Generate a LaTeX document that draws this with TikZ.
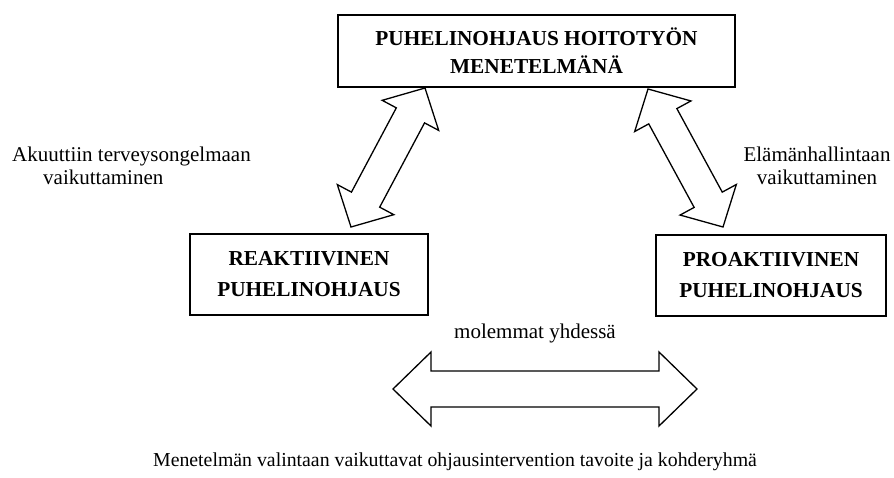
\documentclass[tikz,border=0pt]{standalone}
\usepackage{fontspec}
\setmainfont{Liberation Serif}
\usetikzlibrary{calc}

\tikzset{
  frame/.style={draw, line width=1.4pt, inner sep=0pt, align=center,
    font=\bfseries\fontsize{21.3}{31}\selectfont},
  label/.style={inner sep=0pt, font=\fontsize{21}{23}\selectfont},
  arrowbox/.style={draw, line width=1.3pt, fill=white, line join=miter}
}

% hollow double-headed block arrow between two named points
% #1,#2 tips; #3 head length; #4 half shaft width; #5 half head width
\newcommand{\twoway}[5]{%
  \coordinate (h1) at ($(#1)!#3!(#2)$);
  \coordinate (h2) at ($(#2)!#3!(#1)$);
  \draw[arrowbox] (#1) -- ($(h1)!#5!90:(#2)$) -- ($(h1)!#4!90:(#2)$)
    -- ($(h2)!#4!-90:(#1)$) -- ($(h2)!#5!-90:(#1)$) -- (#2)
    -- ($(h2)!#5!90:(#1)$) -- ($(h2)!#4!90:(#1)$)
    -- ($(h1)!#4!-90:(#2)$) -- ($(h1)!#5!-90:(#2)$) -- cycle;
}

\begin{document}
\begin{tikzpicture}[x=1pt, y=-1pt]
  \useasboundingbox[fill=white] (0,0) rectangle (894,477);

  % boxes
  \node[frame, minimum width=397pt, minimum height=72pt,
    font=\bfseries\fontsize{21.3}{28}\selectfont] (top) at (536.5,51)
    {PUHELINOHJAUS HOITOTYÖN\\MENETELMÄNÄ};
  \node[frame, minimum width=238pt, minimum height=81pt] (reak) at (309,274.5)
    {REAKTIIVINEN\\PUHELINOHJAUS};
  \node[frame, minimum width=230pt, minimum height=81pt] (proak) at (771,275.5)
    {PROAKTIIVINEN\\PUHELINOHJAUS};

  % arrow end points
  \coordinate (la) at (351,227);
  \coordinate (lb) at (425,88);
  \coordinate (ra) at (723,227);
  \coordinate (rb) at (648,89);
  \coordinate (ba) at (393,389);
  \coordinate (bb) at (697,389);

  \twoway{la}{lb}{31pt}{16pt}{32pt}
  \twoway{ra}{rb}{31pt}{16pt}{32pt}
  \twoway{ba}{bb}{38pt}{18pt}{37pt}

  % labels
  \node[label, align=left, anchor=west] (acute) at (12,165.5)
    {Akuuttiin terveysongelmaan\\\hspace*{31pt}vaikuttaminen};
  \node[label, align=center] (life) at (817,165.5)
    {Elämänhallintaan\\vaikuttaminen};
  \node[label] (both) at (535,333) {molemmat yhdessä};
  \node[label, font=\fontsize{19.8}{23}\selectfont] (note) at (455,462)
    {Menetelmän valintaan vaikuttavat ohjausintervention tavoite ja kohderyhmä};
\end{tikzpicture}
\end{document}
